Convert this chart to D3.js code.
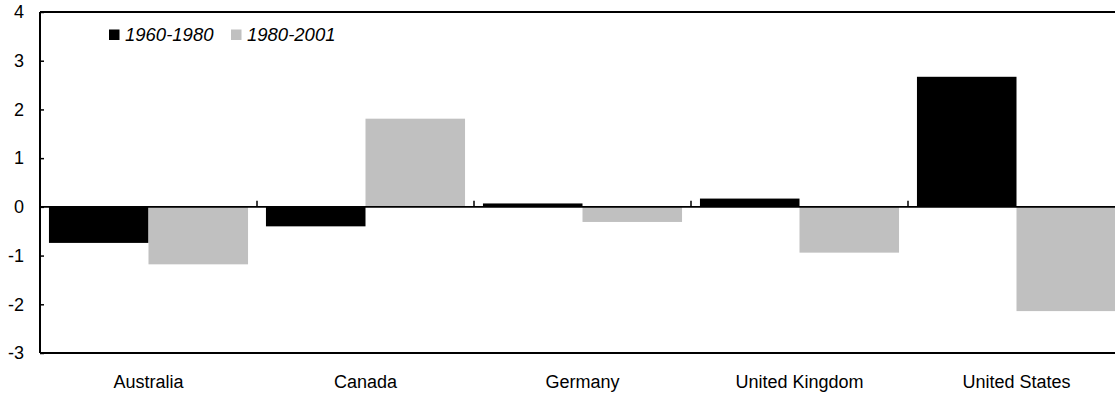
<!DOCTYPE html>
<html>
<head>
<meta charset="utf-8">
<script src="https://cdn.jsdelivr.net/npm/d3@7"></script>
<style>
  html, body { margin: 0; padding: 0; background: #fff; }
  svg { display: block; font-family: "Liberation Sans", Arial, sans-serif; }
</style>
</head>
<body>
<svg id="chart" width="1115" height="396"></svg>
<script>
const categories = ["Australia", "Canada", "Germany", "United Kingdom", "United States"];
const seriesNames = ["1960-1980", "1980-2001"];
const series1960 = [-0.74, -0.40, 0.07, 0.17, 2.67];
const series1980 = [-1.18, 1.81, -0.31, -0.94, -2.14];
const yTicks = [-3, -2, -1, 0, 1, 2, 3, 4];
const colors = ["#000000", "#c0c0c0"];

(function () {
const svg = d3.select("#chart");
const mLeft = 40, mTop = 12, mBottom = 353, band = 217;
const mRight = mLeft + band * categories.length;
const font = "Liberation Sans, Arial, sans-serif";

const x = d3.scaleBand().domain(categories).range([mLeft, mRight]).paddingInner(0).paddingOuter(0);
const inner = d3.scaleBand().domain(seriesNames).range([0, x.bandwidth()]).paddingOuter(0.09).paddingInner(0);
const y = d3.scaleLinear().domain([-3, 4]).range([mBottom, mTop]);

const data = categories.map((c, i) => ({ cat: c, vals: [series1960[i], series1980[i]] }));

const g = svg.append("g");
data.forEach(d => {
  d.vals.forEach((v, j) => {
    g.append("rect")
      .attr("x", x(d.cat) + inner(seriesNames[j]))
      .attr("width", inner.bandwidth())
      .attr("y", y(Math.max(0, v)))
      .attr("height", Math.abs(y(v) - y(0)))
      .attr("fill", colors[j]);
  });
});

svg.append("line").attr("x1", mLeft).attr("x2", mRight).attr("y1", mTop).attr("y2", mTop)
  .attr("stroke", "#000").attr("stroke-width", 2);
svg.append("line").attr("x1", mLeft).attr("x2", mRight).attr("y1", mBottom).attr("y2", mBottom)
  .attr("stroke", "#000").attr("stroke-width", 2);

svg.append("line").attr("x1", mLeft).attr("x2", mRight).attr("y1", y(0)).attr("y2", y(0))
  .attr("stroke", "#000").attr("stroke-width", 1.6);
categories.slice(1).forEach(c => {
  svg.append("line").attr("x1", x(c)).attr("x2", x(c))
    .attr("y1", y(0)).attr("y2", y(0) - 6)
    .attr("stroke", "#000").attr("stroke-width", 1.5);
});

const yAxis = d3.axisLeft(y).tickValues(yTicks).tickSizeInner(-4).tickSizeOuter(0).tickPadding(16)
  .tickFormat(d => String(d));
const ya = svg.append("g").attr("transform", `translate(${mLeft},0)`).call(yAxis);
ya.select(".domain").attr("stroke-width", 2).attr("d", `M0,${mTop}V${mBottom}`);
ya.selectAll(".tick line").attr("stroke-width", 1.5);
ya.selectAll(".tick text").attr("font-size", 18).attr("fill", "#000").attr("font-family", font);

const xAxis = d3.axisBottom(x).tickSize(0).tickPadding(0);
const xa = svg.append("g").attr("transform", `translate(0,${mBottom})`).call(xAxis);
xa.select(".domain").remove();
xa.selectAll(".tick text").attr("font-size", 18).attr("fill", "#000").attr("dy", 0).attr("y", 35)
  .attr("font-family", font);

const legendX = [109, 231];
seriesNames.forEach((s, j) => {
  svg.append("rect").attr("x", legendX[j]).attr("y", 29.5).attr("width", 10.5).attr("height", 10.5).attr("fill", colors[j]);
  svg.append("text").attr("x", legendX[j] + 16).attr("y", 40.5).text(s)
    .attr("font-size", 18.5).attr("font-style", "italic").attr("fill", "#000").attr("font-family", font);
});
})();
</script>
</body>
</html>
